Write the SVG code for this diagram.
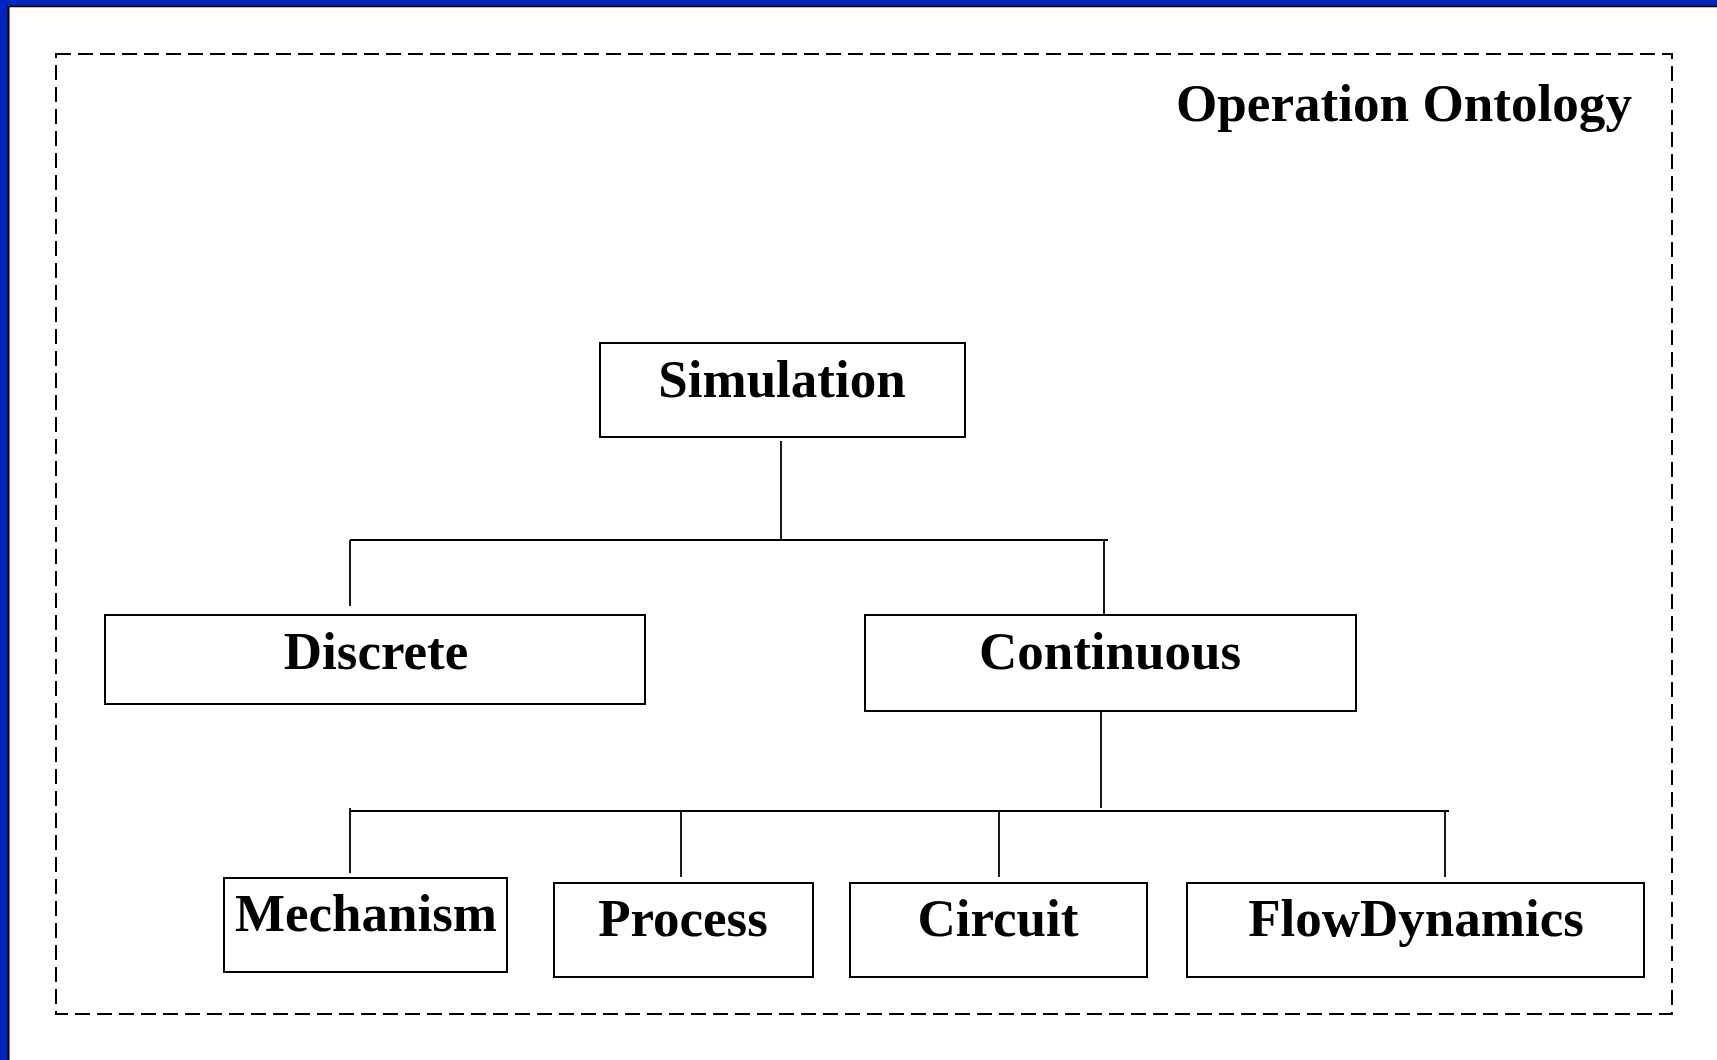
<svg xmlns="http://www.w3.org/2000/svg" width="1717" height="1060" viewBox="0 0 1717 1060">
<style>
.box{fill:#fff;stroke:#000;stroke-width:2}
.lbl{font-family:"Liberation Serif","Times New Roman",serif;font-weight:bold;font-size:53px;text-anchor:middle;fill:#000}
.con line{stroke:#000;stroke-width:1.8}
</style>
<rect x="0" y="0" width="1717" height="1060" fill="#fff"/>
<rect x="0" y="0" width="1717" height="6" fill="#0026c0"/>
<rect x="0" y="0" width="8" height="1060" fill="#0026c0"/>
<line x1="8" y1="6.5" x2="1717" y2="6.5" stroke="#000" stroke-width="1.5"/>
<line x1="8.5" y1="6" x2="8.5" y2="1060" stroke="#000" stroke-width="2"/>
<rect id="frame" x="56" y="54" width="1616" height="960" fill="none" stroke="#000" stroke-width="2" stroke-dasharray="15 7"/>
<text id="title" x="1176" y="121" class="lbl" style="text-anchor:start;font-size:52px" textLength="456" lengthAdjust="spacingAndGlyphs">Operation Ontology</text>
<g id="connectors" class="con">
<line x1="781" y1="441" x2="781" y2="540"/>
<line x1="350" y1="540" x2="1108" y2="540"/>
<line x1="350" y1="540" x2="350" y2="606"/>
<line x1="1104" y1="540" x2="1104" y2="615"/>
<line x1="1101" y1="711" x2="1101" y2="808"/>
<line x1="350" y1="811" x2="1449" y2="811"/>
<line x1="350" y1="808" x2="350" y2="873"/>
<line x1="681" y1="811" x2="681" y2="877"/>
<line x1="999" y1="811" x2="999" y2="877"/>
<line x1="1445" y1="811" x2="1445" y2="877"/>
</g>
<g id="simulation"><rect class="box" x="600" y="343" width="365" height="94"/><text class="lbl" x="782" y="397">Simulation</text></g>
<g id="discrete"><rect class="box" x="105" y="615" width="540" height="89"/><text class="lbl" x="376" y="669">Discrete</text></g>
<g id="continuous"><rect class="box" x="865" y="615" width="491" height="96"/><text class="lbl" x="1110" y="669">Continuous</text></g>
<g id="mechanism"><rect class="box" x="224" y="878" width="283" height="94"/><text class="lbl" x="366" y="931">Mechanism</text></g>
<g id="process"><rect class="box" x="554" y="883" width="259" height="94"/><text class="lbl" x="683" y="936">Process</text></g>
<g id="circuit"><rect class="box" x="850" y="883" width="297" height="94"/><text class="lbl" x="998" y="936">Circuit</text></g>
<g id="flowdynamics"><rect class="box" x="1187" y="883" width="457" height="94"/><text class="lbl" x="1416" y="936">FlowDynamics</text></g>
</svg>
